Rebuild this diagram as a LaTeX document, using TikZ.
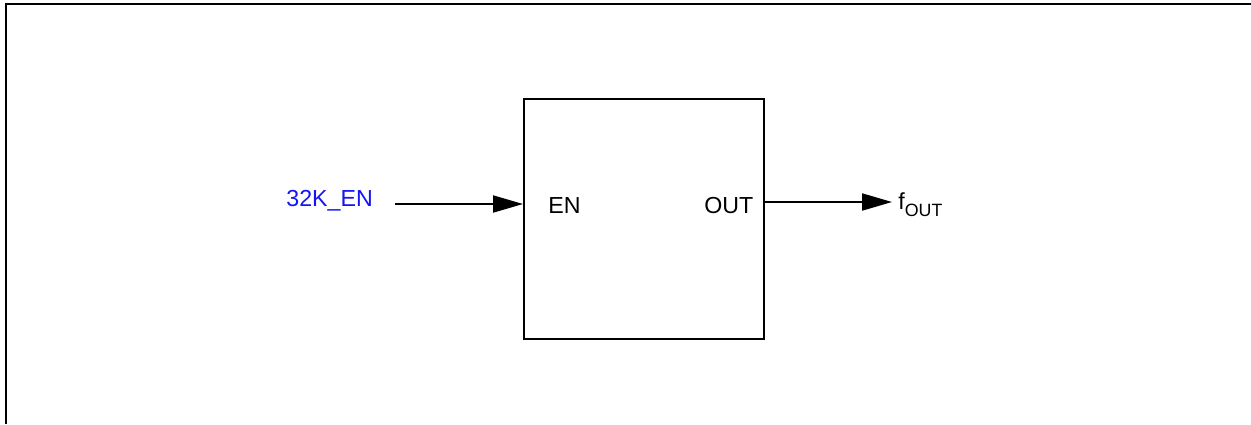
\documentclass[tikz,border=0pt]{standalone}
\usepackage{fontspec}
\setmainfont{Liberation Sans}
\usetikzlibrary{arrows.meta}
\definecolor{sigblue}{RGB}{20,20,245}
\tikzset{
  lbl/.style={anchor=base west, inner sep=0pt, font=\fontsize{11.6}{13}\selectfont},
  blockbox/.style={draw, line width=1pt, minimum width=120pt, minimum height=120pt, inner sep=0pt},
  sig/.style={line width=1pt, -{Triangle[length=15pt,width=8.5pt]}},
  frameline/.style={line width=1pt}
}
\begin{document}
\begin{tikzpicture}[x=0.5pt,y=-0.5pt]
\useasboundingbox (0,0) rectangle (1251,424);
\draw[frameline] (6,424) -- (6,4) -- (1251,4);
\node[blockbox] (blk) at (644,219) {};
\node[lbl, text=sigblue] (en32) at (286,206) {32K\_EN};
\node[lbl] (enpin) at (548,213) {EN};
\node[lbl] (outpin) at (704,213) {OUT};
\node[lbl] (fout) at (898,209) {f\raisebox{-3.6pt}{\fontsize{8.9}{10}\selectfont OUT}};
\coordinate (inStart) at (395,204);
\coordinate (outEnd) at (892,202);
\draw[sig] (inStart) -- (inStart -| blk.west);
\draw[sig] (blk.east |- outEnd) -- (outEnd);
\end{tikzpicture}
\end{document}
